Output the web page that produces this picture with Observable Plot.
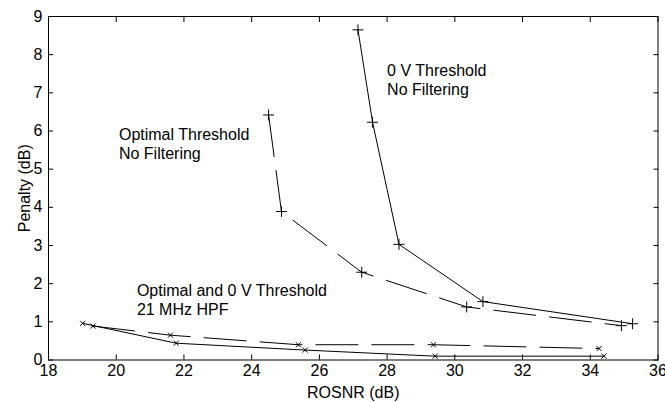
<!DOCTYPE html>
<html><head><meta charset="utf-8">
<script src="https://cdn.jsdelivr.net/npm/d3@7"></script>
<script src="https://cdn.jsdelivr.net/npm/@observablehq/plot@0.6"></script>
<style>body{margin:0;background:#fff} svg{display:block}</style>
</head><body><div id="chart"></div>
<script>
// ROSNR (dB) values and penalty (dB) values per curve
const zeroVNoFilt_x = [27.14, 27.57, 28.35, 30.83, 35.25];
const zeroVNoFilt_y = [8.65, 6.23, 3.03, 1.53, 0.95];
const optNoFilt_x = [24.50, 24.88, 27.25, 30.35, 34.92];
const optNoFilt_y = [6.42, 3.89, 2.30, 1.39, 0.90];
const optHPF_x = [19.31, 21.60, 25.38, 29.37, 34.26];
const optHPF_y = [0.89, 0.65, 0.40, 0.40, 0.30];
const zeroVHPF_x = [19.01, 21.77, 25.58, 29.42, 34.40];
const zeroVHPF_y = [0.96, 0.44, 0.26, 0.10, 0.10];

const xTicks = [18, 20, 22, 24, 26, 28, 30, 32, 34, 36];
const yTicks = [0, 1, 2, 3, 4, 5, 6, 7, 8, 9];

const annoText = ["0 V Threshold\nNo Filtering", "Optimal Threshold\nNo Filtering", "Optimal and 0 V Threshold\n21 MHz HPF"];
const annoX = [28.0, 20.08, 20.61];
const annoY = [7.80, 6.12, 2.04];

const toPts = (xs, ys) => xs.map((x, i) => ({x, y: ys[i]}));
const sZeroV = toPts(zeroVNoFilt_x, zeroVNoFilt_y);
const sOpt = toPts(optNoFilt_x, optNoFilt_y);
const sOptHPF = toPts(optHPF_x, optHPF_y);
const sZeroHPF = toPts(zeroVHPF_x, zeroVHPF_y);
const annos = annoText.map((t, i) => ({t, x: annoX[i], y: annoY[i]}));

const dash = "42,14";
const chart = Plot.plot({
  width: 665, height: 402,
  marginLeft: 48, marginRight: 7.5, marginTop: 16, marginBottom: 42.5,
  style: {fontFamily: "'Liberation Sans', Arial, sans-serif", fontSize: "16px", color: "black", background: "white", overflow: "hidden"},
  x: {domain: [18, 36]},
  y: {domain: [0, 9]},
  marks: [
    Plot.frame({stroke: "black", strokeWidth: 1}),
    Plot.axisX({ticks: xTicks, anchor: "bottom", tickSize: -5, fill: "none", label: null}),
    Plot.axisX({ticks: xTicks, anchor: "top", tickSize: -5, fill: "none", label: null}),
    Plot.axisY({ticks: yTicks, anchor: "left", tickSize: -5, fill: "none", label: null}),
    Plot.axisY({ticks: yTicks, anchor: "right", tickSize: -5, fill: "none", label: null}),
    Plot.axisX({ticks: xTicks, anchor: "bottom", tickSize: 0, tickPadding: 5, label: "ROSNR (dB)", labelAnchor: "center", labelArrow: "none", labelOffset: 38}),
    Plot.axisY({ticks: yTicks, anchor: "left", tickSize: 0, tickPadding: 6, label: "Penalty (dB)", labelAnchor: "center", labelArrow: "none", labelOffset: 30}),
    Plot.line(sZeroV, {x: "x", y: "y", stroke: "black", strokeWidth: 1}),
    Plot.line(sOpt, {x: "x", y: "y", stroke: "black", strokeWidth: 1, strokeDasharray: dash}),
    Plot.line(sOptHPF, {x: "x", y: "y", stroke: "black", strokeWidth: 1, strokeDasharray: dash}),
    Plot.line(sZeroHPF, {x: "x", y: "y", stroke: "black", strokeWidth: 1}),
    Plot.dot(sZeroV, {x: "x", y: "y", symbol: "plus", r: 3.6, stroke: "black", strokeWidth: 1}),
    Plot.dot(sOpt, {x: "x", y: "y", symbol: "plus", r: 3.6, stroke: "black", strokeWidth: 1}),
    Plot.dot(sOptHPF, {x: "x", y: "y", symbol: "times", r: 2.4, stroke: "black", strokeWidth: 1}),
    Plot.dot(sZeroHPF, {x: "x", y: "y", symbol: "times", r: 2.4, stroke: "black", strokeWidth: 1}),
    Plot.text(annos, {x: "x", y: "y", text: "t", textAnchor: "start", lineAnchor: "top", lineHeight: 1.2, fill: "black", fontSize: 16})
  ]
});
document.getElementById("chart").appendChild(chart);
</script>
</body></html>
